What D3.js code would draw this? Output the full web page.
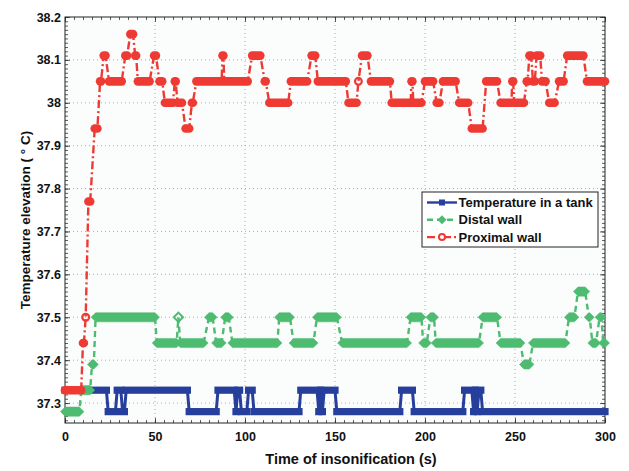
<!DOCTYPE html>
<html lang="en">
<head>
<meta charset="UTF-8">
<title>Temperature elevation vs time of insonification</title>
<script src="https://cdn.jsdelivr.net/npm/d3@7"></script>
<style>
    body { margin: 0; background: #fff; font-family: "Liberation Sans", Arial, sans-serif; }
    .tick text { font-weight: bold; font-size: 12.5px; fill: #111; }
    .axis-label { font-weight: bold; fill: #111; }
</style>
</head>
<body>
<div id="chart"></div>
<script>
// runs of equal readings: [first sample time, last sample time, value]
const tankRuns = [[0,23,37.33],[24,28,37.28],[29,31,37.33],[32,33,37.28],[34,68,37.33],[69,84,37.28],
    [85,94,37.33],[95,95,37.28],[96,97,37.33],[98,101,37.28],[102,104,37.33],[105,130,37.28],
    [131,140,37.33],[141,141,37.28],[142,142,37.33],[143,143,37.28],[144,150,37.33],[151,186,37.28],
    [187,193,37.33],[194,221,37.28],[222,226,37.33],[227,227,37.28],[228,228,37.33],[229,229,37.28],
    [230,231,37.33],[232,300,37.28]];

const distalRuns = [[0,8,37.28],[9,14,37.33],[15,16,37.39],[17,50,37.5],[51,62,37.44],[63,63,37.5],
    [64,77,37.44],[80,82,37.5],[84,87,37.44],[89,91,37.5],[93,118,37.44],[119,125,37.5],[127,138,37.44],
    [140,151,37.5],[154,190,37.44],[192,198,37.5],[199,201,37.44],[203,205,37.5],[206,230,37.44],
    [232,240,37.5],[242,253,37.44],[255,258,37.39],[260,278,37.44],[280,283,37.5],[285,289,37.56],
    [291,291.5,37.5],[293,295,37.44],[297,298,37.5],[299,300,37.44]];

const proximalRuns = [[0,9,37.33],[10,10.5,37.44],[11.5,11.5,37.5],[13,14,37.77],[16.5,18,37.94],
    [19.5,20,38.05],[21.5,22.5,38.11],[24.5,31.5,38.05],[33.5,34.5,38.11],[36.3,37.8,38.16],
    [39,39.5,38.11],[40.5,47,38.05],[49.5,50.5,38.11],[52.5,54,38.05],[55.5,60,38],[61,61.5,38.05],
    [62.5,65,38],[67,69,37.94],[70.5,71,38],[73,87,38.05],[87.5,88,38.11],[88.5,101.5,38.05],
    [104,108.5,38.11],[111,111.5,38.05],[113.5,124,38],[125.5,134.5,38.05],[137,139,38.11],
    [140.5,156,38.05],[157.5,162,38],[163,163,38.05],[165,168,38.11],[170,180.5,38.05],[181.5,192,38],
    [192.5,193,38.05],[193.5,198,38],[200,204.5,38.05],[206.5,208,38],[210,217,38.05],[219,224,38],
    [226,232,37.94],[234,240,38.05],[242,248,38],[248.5,249,38.05],[249.5,255,38],[256.5,257,38.05],
    [258,259,38.11],[260,261,38.05],[262,264,38.11],[265,267,38.05],[269,272,38],[274.5,277,38.05],
    [279,288,38.11],[290,300,38.05]];

const seriesNames = ["Temperature in a tank", "Distal wall", "Proximal wall"];
const xTicks = [0, 50, 100, 150, 200, 250, 300];
const yTicks = [37.3, 37.4, 37.5, 37.6, 37.7, 37.8, 37.9, 38, 38.1, 38.2];
const yTickLabels = ["37.3", "37.4", "37.5", "37.6", "37.7", "37.8", "37.9", "38", "38.1", "38.2"];

const W = 629, H = 471;
const margin = { top: 17, right: 24, bottom: 48, left: 65 },
      width = W - margin.left - margin.right,
      height = H - margin.top - margin.bottom;

const svg = d3.select("#chart").append("svg")
    .attr("width", W).attr("height", H);

const g = svg.append("g")
    .attr("transform", `translate(${margin.left},${margin.top})`);

const x = d3.scaleLinear().domain([0, 300]).range([0, width]);
const y = d3.scaleLinear().domain([37.2535, 38.2]).range([height, 0]);

g.append("rect").attr("width", width).attr("height", height).attr("fill", "#fbfcfc");

// dotted grid
g.append("g").selectAll("line").data(xTicks.slice(1, -1)).join("line")
    .attr("x1", d => x(d)).attr("x2", d => x(d)).attr("y1", 0).attr("y2", height)
    .attr("stroke", "#9a9a9a").attr("stroke-width", 0.8).attr("stroke-dasharray", "1,3");
g.append("g").selectAll("line").data(yTicks.slice(0, -1)).join("line")
    .attr("y1", d => y(d)).attr("y2", d => y(d)).attr("x1", 0).attr("x2", width)
    .attr("stroke", "#9a9a9a").attr("stroke-width", 0.8).attr("stroke-dasharray", "1,3");

// axes: major ticks point inwards, minor ticks too
const xMinor = d3.range(0, 301, 5), yMinor = d3.range(37.26, 38.2001, 0.01);
function styleAxis(sel) {
    sel.select(".domain").remove();
    sel.selectAll(".tick line").attr("stroke", "#333").attr("stroke-width", 0.8);
}
g.append("g").attr("transform", `translate(0,${height})`)
    .call(d3.axisBottom(x).tickValues(xMinor).tickSize(-3).tickFormat("")).call(styleAxis);
g.append("g")
    .call(d3.axisTop(x).tickValues(xMinor).tickSize(-3).tickFormat("")).call(styleAxis);
g.append("g")
    .call(d3.axisLeft(y).tickValues(yMinor).tickSize(-3).tickFormat("")).call(styleAxis);
g.append("g").attr("transform", `translate(${width},0)`)
    .call(d3.axisRight(y).tickValues(yMinor).tickSize(-3).tickFormat("")).call(styleAxis);

g.append("g").attr("transform", `translate(0,${height})`)
    .call(d3.axisBottom(x).tickValues(xTicks).tickSize(-5).tickPadding(9).tickFormat(d3.format("d")))
    .call(styleAxis);
g.append("g")
    .call(d3.axisTop(x).tickValues(xTicks).tickSize(-5).tickFormat("")).call(styleAxis);
g.append("g")
    .call(d3.axisLeft(y).tickValues(yTicks).tickSize(-5).tickPadding(4)
        .tickFormat((d, i) => yTickLabels[i]))
    .call(styleAxis);
g.append("g").attr("transform", `translate(${width},0)`)
    .call(d3.axisRight(y).tickValues(yTicks).tickSize(-5).tickFormat("")).call(styleAxis);

g.append("rect").attr("width", width).attr("height", height)
    .attr("fill", "none").attr("stroke", "#222").attr("stroke-width", 1);

// series
const series = [
    { runs: tankRuns, color: "#263f9c", dash: null, marker: "square", lw: 3 },
    { runs: distalRuns, color: "#4dbb70", dash: "6,4", marker: "diamond", lw: 2.4 },
    { runs: proximalRuns, color: "#ee3a33", dash: "8,3,2,3", marker: "circle", lw: 2.4 }
];

const line = d3.line().x(d => x(d[0])).y(d => y(d[1]));

function drawMarkers(sel, s) {
    const c = s.color;
    s.runs.forEach(r => {
        const x0 = x(r[0]), x1 = x(r[1]), yy = y(r[2]);
        const single = r[0] === r[1];
        if (s.marker === "square") {
            sel.append("rect").attr("x", x0 - 3.6).attr("y", yy - 3.6)
                .attr("width", x1 - x0 + 7.2).attr("height", 7.2).attr("fill", c);
        } else if (s.marker === "diamond") {
            const h = 4.6;
            sel.append("polygon")
                .attr("points", [[x0 - h, yy], [x0, yy - h], [x1, yy - h], [x1 + h, yy], [x1, yy + h], [x0, yy + h]].join(" "))
                .attr("fill", single ? "none" : c).attr("stroke", c).attr("stroke-width", single ? 2 : 0.5);
        } else {
            if (single) {
                sel.append("circle").attr("cx", x0).attr("cy", yy).attr("r", 3.4)
                    .attr("fill", "none").attr("stroke", c).attr("stroke-width", 2.2);
            } else {
                sel.append("line").attr("x1", x0).attr("x2", x1).attr("y1", yy).attr("y2", yy)
                    .attr("stroke", c).attr("stroke-width", 8.6).attr("stroke-linecap", "round");
            }
        }
    });
}

series.forEach(s => {
    const pts = s.runs.flatMap(r => [[r[0], r[2]], [r[1], r[2]]]);
    const sg = g.append("g");
    sg.append("path").datum(pts).attr("d", line)
        .attr("fill", "none").attr("stroke", s.color).attr("stroke-width", s.lw)
        .attr("stroke-dasharray", s.dash);
    drawMarkers(sg, s);
});

// legend
const lg = svg.append("g").attr("transform", "translate(422,192)");
lg.append("rect").attr("width", 176).attr("height", 55)
    .attr("fill", "#fff").attr("stroke", "#222").attr("stroke-width", 1);
series.forEach((s, i) => {
    const ly = 10.5 + i * 17.3;
    lg.append("line").attr("x1", 5).attr("x2", 35).attr("y1", ly).attr("y2", ly)
        .attr("stroke", s.color).attr("stroke-width", 2.4).attr("stroke-dasharray", s.dash);
    if (s.marker === "square") {
        lg.append("rect").attr("x", 17).attr("y", ly - 3).attr("width", 6).attr("height", 6).attr("fill", s.color);
    } else if (s.marker === "diamond") {
        lg.append("polygon").attr("points", [[15.5, ly], [20, ly - 4.5], [24.5, ly], [20, ly + 4.5]].join(" "))
            .attr("fill", s.color);
    } else {
        lg.append("circle").attr("cx", 20).attr("cy", ly).attr("r", 3)
            .attr("fill", "#fff").attr("stroke", s.color).attr("stroke-width", 2);
    }
    lg.append("text").attr("x", 36.5).attr("y", ly + 4.6)
        .attr("font-size", "13px").attr("font-weight", "bold").attr("fill", "#111")
        .text(seriesNames[i]);
});

// axis titles
svg.append("text").attr("class", "axis-label")
    .attr("x", 351).attr("y", 464)
    .attr("text-anchor", "middle").attr("font-size", "14.5px")
    .text("Time of insonification (s)");

svg.append("text").attr("class", "axis-label")
    .attr("transform", `translate(30,${margin.top + height / 2}) rotate(-90)`)
    .attr("text-anchor", "middle").attr("font-size", "13.5px")
    .text("Temperature elevation ( \u00B0 C)");
</script>
</body>
</html>
